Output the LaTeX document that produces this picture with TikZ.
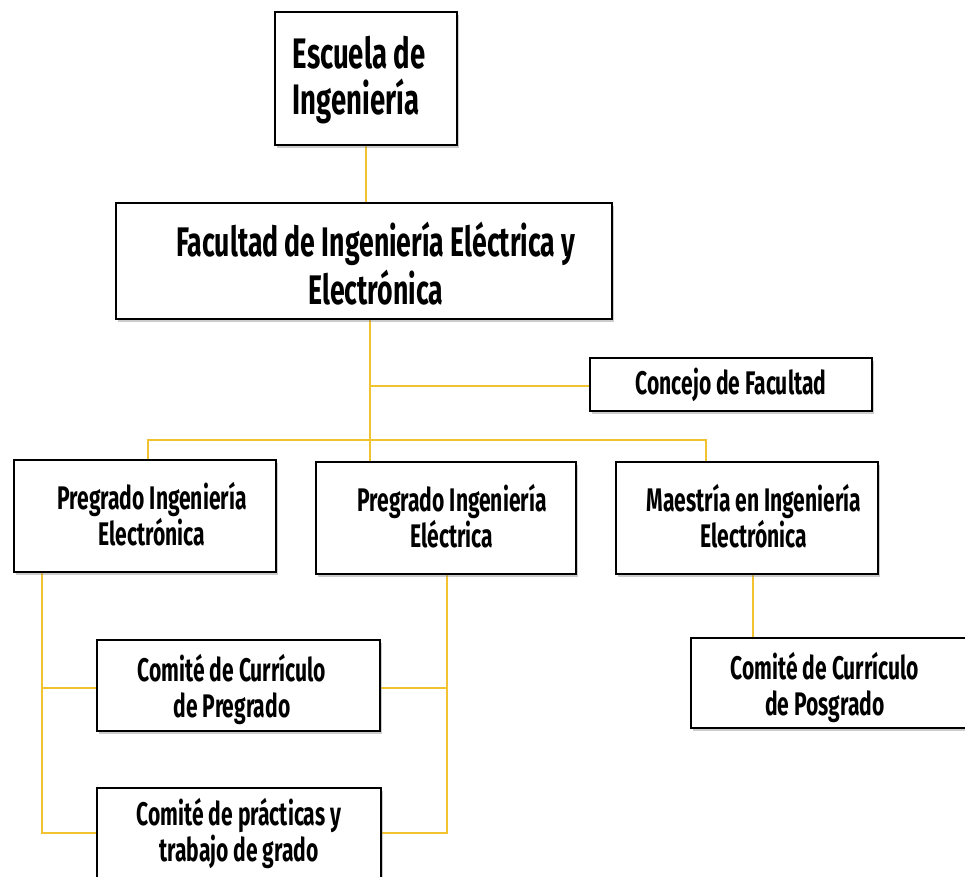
\documentclass[tikz,border=0pt]{standalone}
\usepackage{fontspec}
\setmainfont{Fira Sans}[FakeStretch=0.645,UprightFont=* Bold]
\usetikzlibrary{shadows}
\definecolor{linkyellow}{HTML}{F2C230}
\tikzset{
  box/.style={draw=black, line width=1.7pt, fill=white, inner sep=0pt, align=center,
    drop shadow={opacity=0.4, shadow xshift=1.2pt, shadow yshift=-2.2pt}},
  link/.style={draw=linkyellow, line width=1.3pt},
  bigtxt/.style={font=\fontsize{32}{34}\selectfont},
  medtxt/.style={font=\fontsize{31}{36}\selectfont},
  smalltxt/.style={font=\fontsize{24.5}{27}\selectfont}
}
\begin{document}
\begin{tikzpicture}[x=0.75pt,y=-0.75pt]
\useasboundingbox (0,0) rectangle (965,877);
\clip (0,0) rectangle (965,877);
% coordinates for connector routing
\coordinate (t1) at (370,386);
\coordinate (bL) at (148,440);
\coordinate (bR) at (706,440);
\coordinate (lx) at (42,700);
\coordinate (mx) at (753,600);
% connectors (under boxes)
\draw[link] (366,145) -- (366,203);
\draw[link] (t1 |- 0,319) -- (t1 |- 0,462);
\draw[link] (t1) -- (590,386);
\draw[link] (bL |- 0,460) -- (bL) -- (bR) -- (bR |- 0,462);
\draw[link] (lx |- 0,572) -- (lx |- 0,833) -- (97,833);
\draw[link] (lx |- 0,688) -- (97,688);
\draw[link] (447,574) -- (447,833) -- (381,833);
\draw[link] (447,688) -- (380,688);
\draw[link] (mx |- 0,574) -- (mx |- 0,638);
% boxes
\node[box, minimum width=136.5pt, minimum height=99.75pt] (esc) at (366,78.5) {};
\node[bigtxt, anchor=west, align=left] (esct) at (288,80) {Escuela de\\Ingeniería};
\node[box, minimum width=372pt, minimum height=87pt] (fac) at (364,261) {};
\node[medtxt, align=center] (fact) at (376,264) {Facultad de Ingeniería Eléctrica y\\Electrónica};
\node[box, smalltxt, minimum width=211.5pt, minimum height=39.75pt] (con) at (731,384.5) {Concejo de Facultad};
\node[box, minimum width=196.5pt, minimum height=84pt] (pe) at (145,516) {};
\node[smalltxt, align=center] (pet) at (152,514) {Pregrado Ingeniería\\Electrónica};
\node[box, minimum width=195pt, minimum height=84pt] (pel) at (446,518) {};
\node[smalltxt, align=center] (pelt) at (452,516) {Pregrado Ingeniería\\Eléctrica};
\node[box, minimum width=196.5pt, minimum height=84pt] (mae) at (747,518) {};
\node[smalltxt, align=center] (maet) at (754,516) {Maestría en Ingeniería\\Electrónica};
\node[box, minimum width=212.25pt, minimum height=68.25pt] (ccp) at (238.5,685.5) {};
\node[smalltxt, align=center] (ccpt) at (232,689.5) {Comité de Currículo\\de Pregrado};
\node[box, smalltxt, minimum width=213pt, minimum height=67.5pt] (cpt) at (239,833) {Comité de prácticas y\\trabajo de grado};
\node[box, minimum width=207.75pt, minimum height=67.5pt] (cpo) at (829.5,683) {};
\node[smalltxt, align=center] (cpot) at (825,687) {Comité de Currículo\\de Posgrado};
\end{tikzpicture}
\end{document}
